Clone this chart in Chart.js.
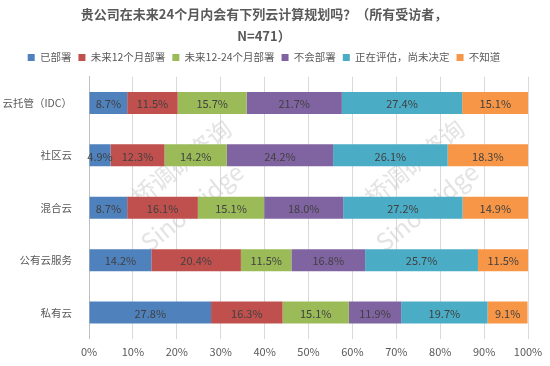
<!DOCTYPE html>
<html>
<head>
<meta charset="utf-8">
<script src="https://cdn.jsdelivr.net/npm/chart.js@4"></script>
<style>
  html, body { margin: 0; padding: 0; background: #fff; }
  #wrap { width: 550px; height: 366px; }
</style>
</head>
<body>
<div id="wrap"><canvas id="planChart"></canvas></div>
<script>
/* ── 数据 ── */
const categories = ['云托管（IDC）', '社区云', '混合云', '公有云服务', '私有云'];
const seriesNames = ['已部署', '未来12个月部署', '未来12-24个月部署', '不会部署', '正在评估，尚未决定', '不知道'];
const deployed   = [8.7, 4.9, 8.7, 14.2, 27.8];
const next12     = [11.5, 12.3, 16.1, 20.4, 16.3];
const next12to24 = [15.7, 14.2, 15.1, 11.5, 15.1];
const never      = [21.7, 24.2, 18.0, 16.8, 11.9];
const evaluating = [27.4, 26.1, 27.2, 25.7, 19.7];
const unknown    = [15.1, 18.3, 14.9, 11.5, 9.1];
const xTicks = [0, 10, 20, 30, 40, 50, 60, 70, 80, 90, 100];

const colors = ['#4F81BD', '#C0504D', '#9BBB59', '#8064A2', '#4BACC6', '#F79646'];
const seriesValues = [deployed, next12, next12to24, never, evaluating, unknown];

const CJK = '"Noto Sans CJK SC", "Noto Sans", sans-serif';

/* ── 数值标签 ── */
const valueLabels = {
  id: 'valueLabels',
  afterDatasetsDraw(chart) {
    const ctx = chart.ctx;
    ctx.save();
    ctx.font = '11px ' + CJK;
    ctx.fillStyle = '#404040';
    ctx.textAlign = 'center';
    ctx.textBaseline = 'middle';
    chart.data.datasets.forEach((ds, i) => {
      chart.getDatasetMeta(i).data.forEach((bar, j) => {
        const cx = (bar.x + bar.base) / 2;
        ctx.fillText(ds.data[j].toFixed(1) + '%', cx, bar.y + 1);
      });
    });
    ctx.restore();
  }
};

/* ── 水印 ── */
const watermark = {
  id: 'watermark',
  beforeDatasetsDraw(chart) {
    const ctx = chart.ctx;
    ctx.save();
    ctx.fillStyle = 'rgba(200,200,200,0.5)';
    ctx.textAlign = 'center';
    ctx.textBaseline = 'middle';
    const marks = [
      { t: '中桥调研咨询', x: 172, y: 170 },
      { t: 'SinoBridge', x: 192, y: 207 },
      { t: '中桥调研咨询', x: 405, y: 170 },
      { t: 'SinoBridge', x: 427, y: 207 }
    ];
    marks.forEach(m => {
      ctx.save();
      ctx.translate(m.x, m.y);
      ctx.rotate(-0.68);
      ctx.font = '24px ' + CJK;
      ctx.fillText(m.t, 0, 0);
      ctx.restore();
    });
    ctx.restore();
  }
};

/* ── 图例下方留白 ── */
const legendGap = {
  id: 'legendGap',
  beforeInit(chart) {
    const fit = chart.legend.fit;
    chart.legend.fit = function () {
      fit.call(this);
      this.height += 4;
    };
  }
};

new Chart(document.getElementById('planChart'), {
  type: 'bar',
  data: {
    labels: categories,
    datasets: seriesNames.map((name, i) => ({
      label: name,
      data: seriesValues[i],
      backgroundColor: colors[i],
      borderWidth: 0,
      barPercentage: 0.42,
      categoryPercentage: 1
    }))
  },
  options: {
    indexAxis: 'y',
    responsive: true,
    maintainAspectRatio: false,
    animation: false,
    layout: { padding: { left: 0, right: 22, top: 3, bottom: 2 } },
    plugins: {
      title: {
        display: true,
        text: ['贵公司在未来24个月内会有下列云计算规划吗？（所有受访者，', 'N=471）'],
        color: '#595959',
        font: { family: CJK, size: 13, weight: 'bold', lineHeight: 1.7 },
        padding: { top: 0, bottom: -2 }
      },
      legend: {
        position: 'top',
        labels: {
          boxWidth: 7,
          boxHeight: 7,
          padding: 7,
          color: '#595959',
          font: { family: CJK, size: 10.5 }
        }
      },
      tooltip: { enabled: false }
    },
    scales: {
      x: {
        stacked: true,
        min: 0,
        max: 100,
        afterBuildTicks: (axis) => { axis.ticks = xTicks.map(v => ({ value: v })); },
        ticks: {
          callback: (v) => v + '%',
          color: '#595959',
          font: { family: CJK, size: 11 },
          padding: 6,
          maxRotation: 0
        },
        grid: { color: '#D9D9D9', drawTicks: false },
        border: { display: false }
      },
      y: {
        stacked: true,
        afterFit: (axis) => { axis.width = 89; },
        ticks: {
          color: '#595959',
          font: { family: CJK, size: 10.5 },
          padding: 9
        },
        grid: { display: false },
        border: { color: '#BFBFBF' }
      }
    }
  },
  plugins: [legendGap, watermark, valueLabels]
});
</script>
</body>
</html>
